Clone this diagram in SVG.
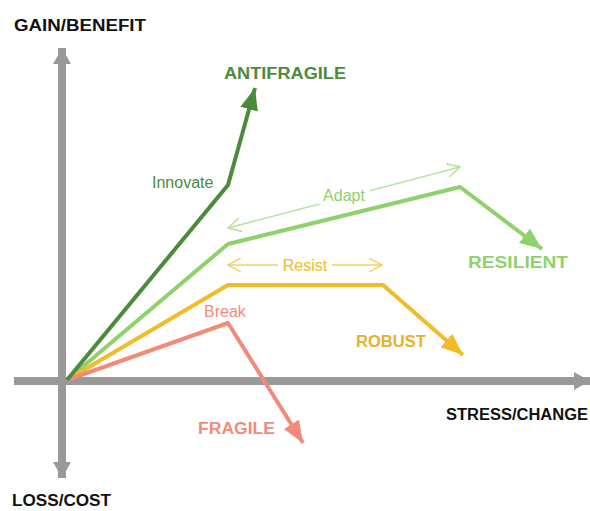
<svg xmlns="http://www.w3.org/2000/svg" width="590" height="511" viewBox="0 0 590 511">
<style>
.ax{fill:none;stroke:#999;stroke-width:8}
.ln{fill:none;stroke-width:4;stroke-linejoin:round}
.dbl{fill:none;stroke-width:1.5}
.cap{font-family:"Liberation Sans",Arial,sans-serif;font-weight:bold;font-size:16px}
.lbl{font-family:"Liberation Sans",Arial,sans-serif;font-size:16px}
</style>
<defs>
<marker id="axh" markerUnits="userSpaceOnUse" viewBox="0 0 16 18" refX="16" refY="9" markerWidth="16" markerHeight="18" orient="auto-start-reverse"><path d="M0,0 L16,9 L0,18 z" fill="#999"/></marker>
<marker id="hdg" markerUnits="userSpaceOnUse" viewBox="0 0 22 18" refX="22" refY="9" markerWidth="22" markerHeight="18" orient="auto"><path d="M0,0 L22,9 L0,18 z" fill="#4c8a3c"/></marker>
<marker id="hlg" markerUnits="userSpaceOnUse" viewBox="0 0 22 18" refX="22" refY="9" markerWidth="22" markerHeight="18" orient="auto"><path d="M0,0 L22,9 L0,18 z" fill="#8fd16a"/></marker>
<marker id="hor" markerUnits="userSpaceOnUse" viewBox="0 0 22 18" refX="22" refY="9" markerWidth="22" markerHeight="18" orient="auto"><path d="M0,0 L22,9 L0,18 z" fill="#f0bc2a"/></marker>
<marker id="hsa" markerUnits="userSpaceOnUse" viewBox="0 0 22 18" refX="22" refY="9" markerWidth="22" markerHeight="18" orient="auto"><path d="M0,0 L22,9 L0,18 z" fill="#f28a7a"/></marker>
<marker id="olg" markerUnits="userSpaceOnUse" viewBox="0 0 14 14" refX="13" refY="7" markerWidth="14" markerHeight="14" orient="auto-start-reverse"><path d="M0,0 L13,7 L0,14" fill="none" stroke="#b9e39c" stroke-width="1.5"/></marker>
<marker id="oor" markerUnits="userSpaceOnUse" viewBox="0 0 14 14" refX="13" refY="7" markerWidth="14" markerHeight="14" orient="auto-start-reverse"><path d="M0,0 L13,7 L0,14" fill="none" stroke="#f5cf6a" stroke-width="1.5"/></marker>
</defs>
<g id="axes">
<line class="ax" x1="62" y1="478" x2="62" y2="48" marker-start="url(#axh)" marker-end="url(#axh)"/>
<line class="ax" x1="14" y1="381" x2="590" y2="381" marker-end="url(#axh)"/>
</g>
<g id="connectors">
<polyline class="ln" stroke="#8fd16a" points="67,380 228,244 460,187 542,249" marker-end="url(#hlg)"/>
<polyline class="ln" stroke="#f0bc2a" points="67,380 228,285 383,285 463,355" marker-end="url(#hor)"/>
<polyline class="ln" stroke="#f28a7a" points="67,380 228,323 303,443" marker-end="url(#hsa)"/>
<polyline class="ln" stroke="#4c8a3c" points="67,380 228,185 255,88" marker-end="url(#hdg)"/>
<line class="dbl" stroke="#b9e39c" x1="228" y1="228" x2="460" y2="167" marker-start="url(#olg)" marker-end="url(#olg)"/>
<line class="dbl" stroke="#f5cf6a" x1="228" y1="265" x2="382" y2="265" marker-start="url(#oor)" marker-end="url(#oor)"/>
</g>
<g id="label-adapt"><rect x="318" y="186" width="52" height="18" fill="#fff"/><text class="lbl" x="344" y="201" text-anchor="middle" fill="#8fd16a">Adapt</text></g>
<g id="label-resist"><rect x="278" y="257" width="54" height="18" fill="#fff"/><text class="lbl" x="305" y="271" text-anchor="middle" fill="#f0bc2a">Resist</text></g>
<g id="label-innovate"><text class="lbl" x="152" y="188" fill="#4c8a3c">Innovate</text></g>
<g id="label-break"><text class="lbl" x="204" y="317" fill="#f28a7a">Break</text></g>
<g id="gain"><text class="cap" x="14" y="31" fill="#111" textLength="132" lengthAdjust="spacingAndGlyphs">GAIN/BENEFIT</text></g>
<g id="antifragile"><text class="cap" x="224" y="79" fill="#4c8a3c" textLength="122" lengthAdjust="spacingAndGlyphs">ANTIFRAGILE</text></g>
<g id="resilient"><text class="cap" x="468" y="268" fill="#8fd16a" textLength="100" lengthAdjust="spacingAndGlyphs">RESILIENT</text></g>
<g id="robust"><text class="cap" x="356" y="347" fill="#e6b22a" textLength="70" lengthAdjust="spacingAndGlyphs">ROBUST</text></g>
<g id="fragile"><text class="cap" x="198" y="434" fill="#f28a7a" textLength="77" lengthAdjust="spacingAndGlyphs">FRAGILE</text></g>
<g id="stress"><text class="cap" x="446" y="420" fill="#111" textLength="142" lengthAdjust="spacingAndGlyphs">STRESS/CHANGE</text></g>
<g id="loss"><text class="cap" x="12" y="506" fill="#111" font-size="15" textLength="99" lengthAdjust="spacingAndGlyphs">LOSS/COST</text></g>
</svg>
